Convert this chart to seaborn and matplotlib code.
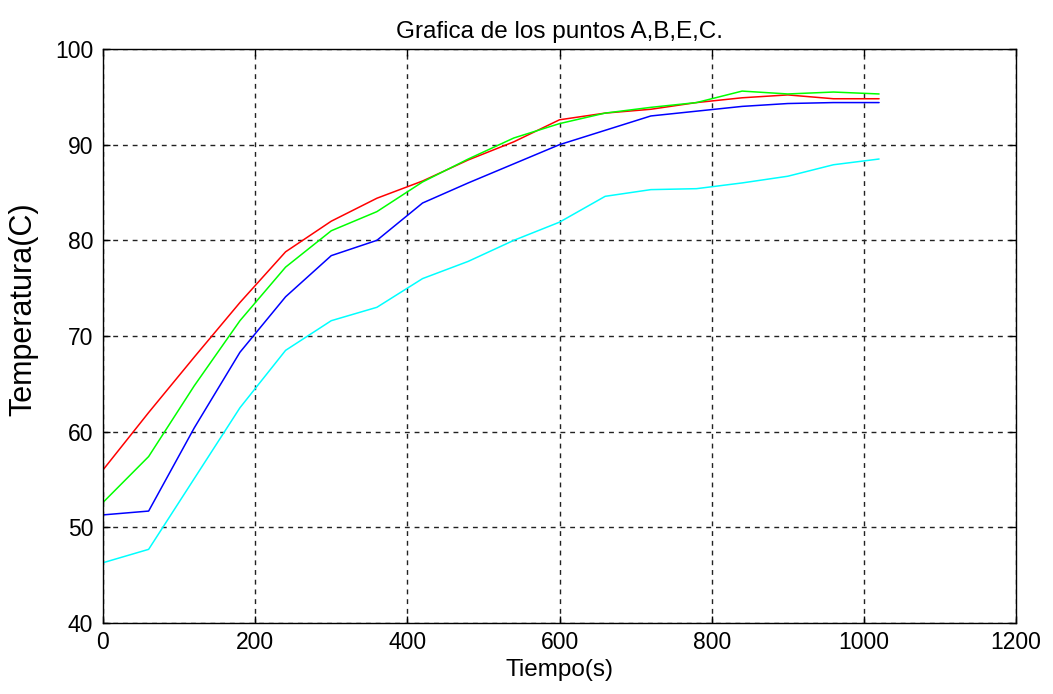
import matplotlib
matplotlib.use("Agg")
import matplotlib.pyplot as plt
import seaborn as sns
import pandas as pd

tiempo = [0, 60, 120, 180, 240, 300, 360, 420, 480, 540, 600, 660, 720, 780, 840, 900, 960, 1020]
punto_a = [56.0, 62.0, 67.8, 73.5, 78.8, 82.0, 84.4, 86.2, 88.4, 90.3, 92.6, 93.3, 93.7, 94.4, 94.9, 95.2, 94.8, 94.8]
punto_b = [52.6, 57.4, 64.8, 71.6, 77.2, 81.0, 83.0, 86.1, 88.5, 90.7, 92.2, 93.3, 93.9, 94.4, 95.6, 95.3, 95.5, 95.3]
punto_e = [51.3, 51.7, 60.4, 68.3, 74.1, 78.4, 80.0, 83.9, 86.0, 88.0, 90.0, 91.5, 93.0, 93.5, 94.0, 94.3, 94.4, 94.4]
punto_c = [46.3, 47.7, 55.1, 62.5, 68.5, 71.6, 73.0, 76.0, 77.8, 80.0, 81.9, 84.6, 85.3, 85.4, 86.0, 86.7, 87.9, 88.5]

x_ticks = [0, 200, 400, 600, 800, 1000, 1200]
y_ticks = [40, 50, 60, 70, 80, 90, 100]

sns.set_theme(style="white")
plt.rcParams['font.family'] = ['Liberation Sans', 'DejaVu Sans']

fig = plt.figure(figsize=(10.53, 6.94), dpi=100)
ax = fig.add_axes([0.0978, 0.1023, 0.8671, 0.8271])

series = [(punto_a, "#ff0000"), (punto_b, "#00ff00"), (punto_e, "#0000ff"), (punto_c, "#00ffff")]
for vals, col in series:
    df = pd.DataFrame({"t": tiempo, "T": vals})
    sns.lineplot(data=df, x="t", y="T", color=col, linewidth=1.1, ax=ax)

ax.set_xlim(0, 1200)
ax.set_ylim(40, 100)
ax.set_xticks(x_ticks)
ax.set_yticks(y_ticks)
ax.tick_params(axis='both', direction='in', length=5, width=1, colors='black',
               labelsize=16.5, top=True, right=True, bottom=True, left=True)
ax.tick_params(axis='x', pad=6)
ax.tick_params(axis='y', pad=7)
ax.grid(True, color='#222222', linestyle=(0, (3.5, 3.5)), linewidth=1.0)
for s in ax.spines.values():
    s.set_color('black')
    s.set_linewidth(1.0)

ax.set_xlabel("Tiempo(s)", fontsize=17.5, color='black', labelpad=3)
ax.set_ylabel("Temperatura(C)", fontsize=22, color='black')
ax.yaxis.set_label_coords(-0.071, 0.547)
ax.set_title("Grafica de los puntos A,B,E,C.", fontsize=17.5, color='black', pad=8)

fig.savefig("out.png", dpi=100, facecolor='white')
